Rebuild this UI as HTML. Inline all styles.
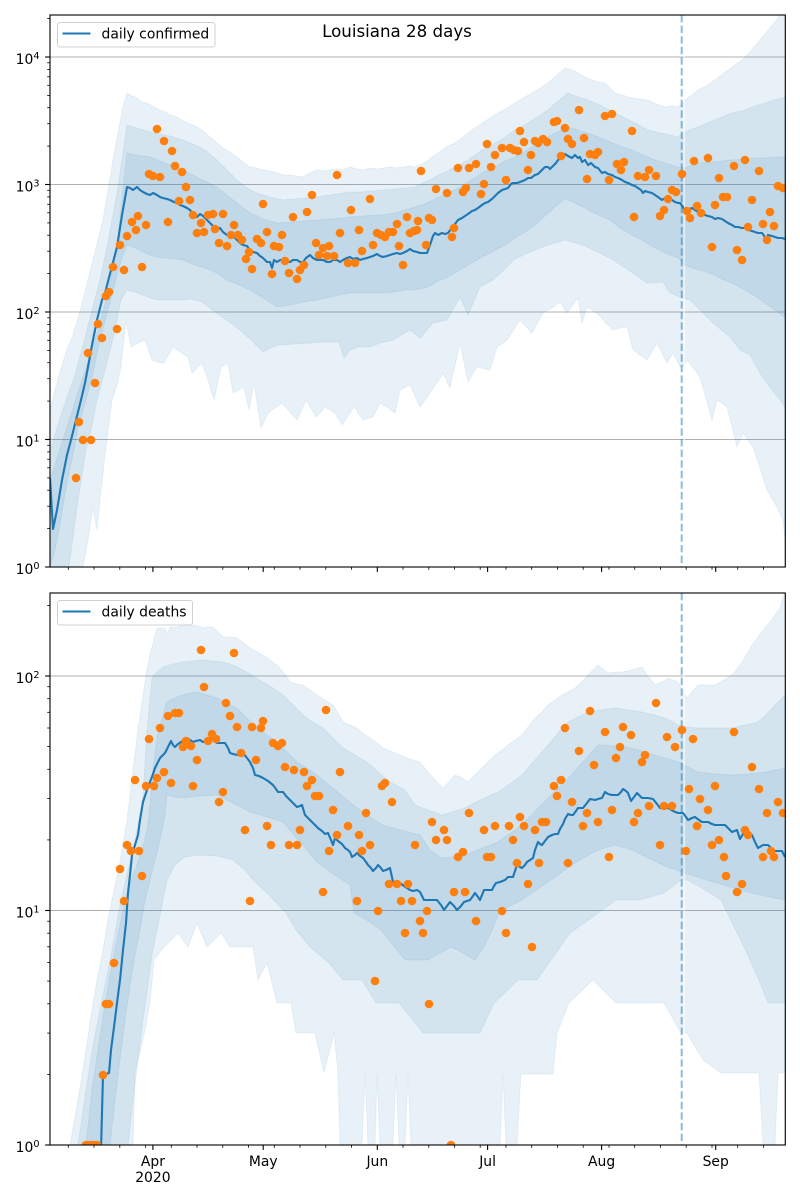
<!DOCTYPE html>
<html><head><meta charset="utf-8"><style>
html,body{margin:0;padding:0;background:#fff;}
svg{display:block;font-family:"DejaVu Sans","Liberation Sans",sans-serif;}
</style></head><body>
<svg width="800" height="1200" viewBox="0 0 800 1200" xmlns="http://www.w3.org/2000/svg">
<defs>
<clipPath id="ct"><rect x="50" y="15" width="735.3" height="552"/></clipPath>
<clipPath id="cb"><rect x="50" y="593" width="735.3" height="552"/></clipPath>
</defs>
<rect width="800" height="1200" fill="#fff"/>

<!-- ============ TOP PANEL ============ -->
<g stroke="#b0b0b0" stroke-width="1.1">
<line x1="50" y1="57" x2="785.3" y2="57"/>
<line x1="50" y1="184.5" x2="785.3" y2="184.5"/>
<line x1="50" y1="312" x2="785.3" y2="312"/>
<line x1="50" y1="439.5" x2="785.3" y2="439.5"/>
</g>
<g clip-path="url(#ct)" fill="#1f77b4" fill-opacity="0.1" fill-rule="evenodd" stroke="#1f77b4" stroke-opacity="0.08" stroke-width="1">
<path d="M50,410 55,390 60,372 66,352 73,335 78,318 83,300 88,280 93,260 98,240 103,220 108,190 113,160 118,133 123,107 127,93 132,96 137,98 142,102 147,103 152,106 156,108 160,110 165,112 170,115 177,117 183,121 190,124 197,127 203,131 210,137 217,143 223,148 230,152 237,157 243,162 250,167 257,168 263,170 270,171 277,173 283,175 290,175 297,176 303,177 310,173 317,170 323,171 330,170 337,169 343,170 350,167 357,169 363,170 370,168 377,169 383,168 390,167 397,168 403,167 410,166 415,167 420,165 428,160 435,155 442,150 448,146 455,143 462,138 468,133 475,128 482,123 490,118 498,113 507,108 515,103 523,98 532,93 540,88 548,83 556,76 565,68 572,70 578,73 585,77 592,80 598,82 605,83 610,88 615,93 622,95 632,98 640,99 648,100 656,104 665,107 672,106 678,107 682,104 685,100 692,95 698,90 706,86 715,80 724,73 732,67 742,60 750,52 760,40 770,28 778,18 785,8 785,620 50,620 Z
M50,567 83,567 88,540 93,507 97,530 100,500 105,455 112,400 117,385 121,367 126,320 131,347 138,343 145,340 152,360 158,362 164,363 173,347 180,352 188,357 192,373 202,363 208,380 214,400 221,367 228,363 233,393 239,390 244,387 249,410 254,383 261,428 268,413 275,408 282,403 290,412 297,420 306,400 316,417 325,407 335,413 342,425 354,407 363,420 373,417 380,403 388,408 395,413 400,390 410,385 420,407 430,393 437,383 443,373 450,388 460,343 468,382 477,367 490,370 497,347 507,340 520,320 532,333 543,313 552,308 560,302 567,313 578,298 582,323 587,307 597,313 605,322 613,330 620,328 627,327 633,350 640,355 647,360 657,343 667,363 673,353 680,367 683,367 687,360 700,377 706,398 712,420 717,400 727,407 737,447 743,433 753,447 760,468 767,490 777,507 783,520 785,540 785,620 50,620 Z"/>
<path d="M50,450 58,425 66,400 75,375 83,345 92,310 100,280 107,247 112,220 117,193 122,160 127,125 133,127 140,129 150,132 160,134 170,136 183,140 195,145 205,150 217,160 227,170 237,180 247,188 257,193 270,197 283,200 295,199 307,198 317,197 330,195 343,193 350,192 360,192 370,191 383,190 395,189 405,188 415,187 425,182 435,177 445,172 455,167 468,160 482,150 495,143 507,136 515,130 525,125 537,117 548,110 558,101 568,93 578,97 588,100 600,105 615,113 625,118 635,123 648,130 660,133 670,135 678,137 685,132 692,129 698,127 710,122 722,117 732,113 745,110 755,106 765,103 775,100 785,97 785,620 50,620 Z
M50,567 69,567 74,530 78,500 82,475 86,450 92,425 97,400 105,370 112,343 117,320 121,300 127,290 135,292 145,296 157,300 170,300 183,300 192,299 202,302 210,308 216,313 228,321 240,330 252,341 263,352 270,348 278,345 295,344 311,343 325,342 339,342 344,358 350,350 358,347 370,347 380,343 393,340 410,330 420,338 433,323 447,320 460,297 468,315 480,287 493,280 507,267 513,260 530,252 545,246 565,240 580,244 598,252 613,260 633,273 647,283 663,282 670,293 680,297 690,300 703,313 713,323 730,337 740,350 750,355 760,373 770,387 780,400 785,407 785,620 50,620 Z"/>
<path d="M50,480 58,455 66,430 74,405 82,380 90,355 98,330 106,300 113,267 118,235 122,200 127,153 135,155 143,156 150,157 160,161 170,165 183,170 195,176 205,181 217,187 227,195 237,203 250,213 263,219 277,223 290,222 303,221 317,220 330,219 343,218 350,217 363,216 375,215 383,215 395,213 405,210 415,207 425,204 435,199 448,193 460,187 470,181 482,173 495,167 505,161 515,157 527,150 538,143 548,137 558,132 568,127 578,130 588,133 598,137 610,142 620,146 632,150 645,156 655,160 665,163 678,167 685,168 692,165 698,163 710,162 722,161 732,160 745,159 755,158 765,158 775,157 785,157 785,620 50,620 Z
M50,567 55,550 59,530 64,500 69,473 74,450 78,427 83,410 88,393 93,373 97,353 102,333 107,313 112,295 117,275 122,258 127,245 135,248 143,252 150,255 157,257 165,258 175,259 183,260 195,265 205,268 217,273 227,280 237,284 250,290 263,298 277,307 290,305 303,302 317,300 330,297 343,294 350,293 365,293 383,293 395,292 405,290 415,290 428,287 440,280 448,277 460,270 470,264 482,257 492,252 505,245 515,238 525,232 535,225 545,216 555,207 565,199 575,203 585,208 598,215 610,220 620,228 632,235 645,242 655,248 665,253 678,258 685,265 692,268 700,270 712,274 722,279 732,283 745,290 755,296 765,303 775,310 785,318 785,620 50,620 Z"/>
</g>
<line x1="684.2" y1="15" x2="684.2" y2="567" stroke="#fff" stroke-width="1.2" stroke-opacity="0.8"/>
<g clip-path="url(#ct)">
<polyline fill="none" stroke="#1f77b4" stroke-width="2.1" stroke-linejoin="round" points="50,478 53,529 57,510 62,480 67,455 71,440 76,420 81,400 85,383 88,367 92,345 97,320 102,300 105,293 111,270 117,247 122,215 127,187 130,188 133,190 137,187 140,190 143,192 147,194 150,195 153,193 157,195 160,197 163,198 167,199 170,200 174,202 177,203 180,205 183,206 187,208 190,210 193,214 197,217 200,214 203,216 207,220 210,223 213,226 217,230 220,228 223,232 227,235 230,237 233,236 237,240 240,243 243,245 247,246 250,250 253,252 257,253 260,256 263,258 267,262 270,262 272,268 274,260 277,262 280,260 283,260 287,262 290,262 293,260 297,260 300,262 303,262 306,258 310,255 313,258 317,260 320,260 323,260 327,262 330,262 333,260 337,260 340,262 343,260 347,258 350,257 353,259 357,258 360,260 363,259 367,258 370,257 373,256 377,254 380,256 383,257 387,256 390,255 393,254 397,253 400,254 403,253 407,251 410,249 413,251 417,252 420,253 424,253 427,253 430,245 433,236 435,233 438,235 442,233 445,234 448,233 451,229 455,224 458,220 462,218 465,216 468,214 472,211 475,210 478,208 482,205 485,203 488,202 492,199 495,196 498,193 502,190 505,189 508,188 511,184 513,183 517,183 520,182 525,180 528,178 531,178 535,175 538,174 542,170 545,167 548,167 550,169 553,166 556,163 558,160 562,157 565,154 568,156 572,158 575,155 578,158 580,157 582,162 585,160 588,165 591,163 595,167 598,168 602,173 605,172 608,174 612,175 615,177 618,178 622,180 625,182 628,183 632,185 635,186 638,188 641,190 643,193 645,191 648,192 652,193 655,195 658,197 662,200 665,198 668,198 672,200 675,202 678,203 680,203 683,207 685,212 688,210 692,208 695,210 698,212 702,213 705,215 708,216 712,217 715,219 718,218 722,219 725,221 728,223 732,225 735,227 738,227 742,228 745,228 748,230 752,231 755,232 758,233 762,233 765,237 767,240 768,235 772,236 775,237 778,238 782,238 785,239"/>
<line x1="681.7" y1="15" x2="681.7" y2="567" stroke="#1f77b4" stroke-opacity="0.5" stroke-width="2" stroke-dasharray="7.4 3.2"/>
<g fill="#ff7f0e">
<circle cx="76" cy="478" r="4.3"/><circle cx="79" cy="422" r="4.3"/><circle cx="83" cy="440" r="4.3"/><circle cx="88" cy="353" r="4.3"/><circle cx="91" cy="440" r="4.3"/><circle cx="95" cy="383" r="4.3"/><circle cx="98" cy="324" r="4.3"/><circle cx="102" cy="338" r="4.3"/><circle cx="106" cy="296" r="4.3"/><circle cx="109" cy="292" r="4.3"/><circle cx="113" cy="267" r="4.3"/><circle cx="117" cy="329" r="4.3"/><circle cx="120" cy="245" r="4.3"/><circle cx="124" cy="270" r="4.3"/><circle cx="127" cy="236" r="4.3"/><circle cx="132" cy="222" r="4.3"/><circle cx="136" cy="230" r="4.3"/><circle cx="138" cy="216" r="4.3"/><circle cx="142" cy="267" r="4.3"/><circle cx="146" cy="225" r="4.3"/><circle cx="149" cy="174" r="4.3"/><circle cx="153" cy="176" r="4.3"/><circle cx="157" cy="129" r="4.3"/><circle cx="160" cy="177" r="4.3"/><circle cx="164" cy="141" r="4.3"/><circle cx="168" cy="222" r="4.3"/><circle cx="172" cy="151" r="4.3"/><circle cx="175" cy="166" r="4.3"/><circle cx="179" cy="201" r="4.3"/><circle cx="182" cy="172" r="4.3"/><circle cx="186" cy="187" r="4.3"/><circle cx="190" cy="200" r="4.3"/><circle cx="193" cy="215" r="4.3"/><circle cx="197" cy="233" r="4.3"/><circle cx="201" cy="223" r="4.3"/><circle cx="204" cy="232" r="4.3"/><circle cx="208" cy="215" r="4.3"/><circle cx="213" cy="214" r="4.3"/><circle cx="215" cy="229" r="4.3"/><circle cx="219" cy="243" r="4.3"/><circle cx="223" cy="214" r="4.3"/><circle cx="227" cy="246" r="4.3"/><circle cx="231" cy="235" r="4.3"/><circle cx="234" cy="225" r="4.3"/><circle cx="238" cy="235" r="4.3"/><circle cx="242" cy="240" r="4.3"/><circle cx="246" cy="259" r="4.3"/><circle cx="249" cy="252" r="4.3"/><circle cx="252" cy="269" r="4.3"/><circle cx="257" cy="239" r="4.3"/><circle cx="261" cy="243" r="4.3"/><circle cx="263" cy="204" r="4.3"/><circle cx="267" cy="232" r="4.3"/><circle cx="272" cy="274" r="4.3"/><circle cx="274" cy="246" r="4.3"/><circle cx="279" cy="247" r="4.3"/><circle cx="282" cy="235" r="4.3"/><circle cx="285" cy="261" r="4.3"/><circle cx="289" cy="273" r="4.3"/><circle cx="293" cy="217" r="4.3"/><circle cx="297" cy="279" r="4.3"/><circle cx="300" cy="270" r="4.3"/><circle cx="304" cy="265" r="4.3"/><circle cx="307" cy="212" r="4.3"/><circle cx="312" cy="195" r="4.3"/><circle cx="316" cy="243" r="4.3"/><circle cx="319" cy="255" r="4.3"/><circle cx="323" cy="248" r="4.3"/><circle cx="327" cy="256" r="4.3"/><circle cx="329" cy="246" r="4.3"/><circle cx="334" cy="256" r="4.3"/><circle cx="337" cy="175" r="4.3"/><circle cx="340" cy="233" r="4.3"/><circle cx="348" cy="263" r="4.3"/><circle cx="351" cy="210" r="4.3"/><circle cx="355" cy="263" r="4.3"/><circle cx="359" cy="230" r="4.3"/><circle cx="362" cy="251" r="4.3"/><circle cx="370" cy="199" r="4.3"/><circle cx="373" cy="245" r="4.3"/><circle cx="377" cy="233" r="4.3"/><circle cx="381" cy="235" r="4.3"/><circle cx="385" cy="237" r="4.3"/><circle cx="389" cy="232" r="4.3"/><circle cx="393" cy="232" r="4.3"/><circle cx="397" cy="224" r="4.3"/><circle cx="399" cy="246" r="4.3"/><circle cx="403" cy="265" r="4.3"/><circle cx="407" cy="217" r="4.3"/><circle cx="410" cy="233" r="4.3"/><circle cx="414" cy="231" r="4.3"/><circle cx="418" cy="221" r="4.3"/><circle cx="421" cy="171" r="4.3"/><circle cx="417" cy="230" r="4.3"/><circle cx="426" cy="245" r="4.3"/><circle cx="429" cy="218" r="4.3"/><circle cx="432" cy="220" r="4.3"/><circle cx="436" cy="189" r="4.3"/><circle cx="447" cy="193" r="4.3"/><circle cx="452" cy="237" r="4.3"/><circle cx="454" cy="228" r="4.3"/><circle cx="458" cy="168" r="4.3"/><circle cx="463" cy="192" r="4.3"/><circle cx="466" cy="188" r="4.3"/><circle cx="469" cy="168" r="4.3"/><circle cx="476" cy="164" r="4.3"/><circle cx="481" cy="194" r="4.3"/><circle cx="484" cy="184" r="4.3"/><circle cx="487" cy="144" r="4.3"/><circle cx="491" cy="167" r="4.3"/><circle cx="495" cy="155" r="4.3"/><circle cx="502" cy="148" r="4.3"/><circle cx="506" cy="180" r="4.3"/><circle cx="510" cy="148" r="4.3"/><circle cx="514" cy="150" r="4.3"/><circle cx="518" cy="151" r="4.3"/><circle cx="520" cy="131" r="4.3"/><circle cx="524" cy="142" r="4.3"/><circle cx="528" cy="170" r="4.3"/><circle cx="531" cy="155" r="4.3"/><circle cx="535" cy="141" r="4.3"/><circle cx="538" cy="143" r="4.3"/><circle cx="543" cy="139" r="4.3"/><circle cx="547" cy="142" r="4.3"/><circle cx="554" cy="122" r="4.3"/><circle cx="557" cy="121" r="4.3"/><circle cx="561" cy="156" r="4.3"/><circle cx="565" cy="128" r="4.3"/><circle cx="568" cy="139" r="4.3"/><circle cx="572" cy="144" r="4.3"/><circle cx="579" cy="110" r="4.3"/><circle cx="584" cy="138" r="4.3"/><circle cx="587" cy="179" r="4.3"/><circle cx="590" cy="154" r="4.3"/><circle cx="595" cy="155" r="4.3"/><circle cx="598" cy="152" r="4.3"/><circle cx="605" cy="116" r="4.3"/><circle cx="612" cy="114" r="4.3"/><circle cx="609" cy="180" r="4.3"/><circle cx="617" cy="164" r="4.3"/><circle cx="621" cy="170" r="4.3"/><circle cx="624" cy="162" r="4.3"/><circle cx="632" cy="131" r="4.3"/><circle cx="634" cy="217" r="4.3"/><circle cx="638" cy="176" r="4.3"/><circle cx="645" cy="177" r="4.3"/><circle cx="649" cy="170" r="4.3"/><circle cx="656" cy="176" r="4.3"/><circle cx="660" cy="216" r="4.3"/><circle cx="664" cy="210" r="4.3"/><circle cx="668" cy="199" r="4.3"/><circle cx="672" cy="190" r="4.3"/><circle cx="676" cy="192" r="4.3"/><circle cx="682" cy="174" r="4.3"/><circle cx="687" cy="211" r="4.3"/><circle cx="690" cy="218" r="4.3"/><circle cx="694" cy="161" r="4.3"/><circle cx="697" cy="206" r="4.3"/><circle cx="701" cy="213" r="4.3"/><circle cx="708" cy="158" r="4.3"/><circle cx="712" cy="247" r="4.3"/><circle cx="715" cy="205" r="4.3"/><circle cx="719" cy="178" r="4.3"/><circle cx="723" cy="197" r="4.3"/><circle cx="727" cy="197" r="4.3"/><circle cx="734" cy="166" r="4.3"/><circle cx="737" cy="250" r="4.3"/><circle cx="742" cy="260" r="4.3"/><circle cx="745" cy="160" r="4.3"/><circle cx="748" cy="227" r="4.3"/><circle cx="752" cy="200" r="4.3"/><circle cx="759" cy="171" r="4.3"/><circle cx="763" cy="224" r="4.3"/><circle cx="767" cy="240" r="4.3"/><circle cx="770" cy="212" r="4.3"/><circle cx="774" cy="226" r="4.3"/><circle cx="778" cy="186" r="4.3"/><circle cx="783" cy="188" r="4.3"/>
</g>
</g>
<!-- top axes frame -->
<rect x="50" y="15" width="735.3" height="552" fill="none" stroke="#000" stroke-width="1.1"/>
<!-- top y ticks -->
<g stroke="#000" stroke-width="1.1">
<line x1="45.1" y1="57" x2="50" y2="57"/><line x1="45.1" y1="184.5" x2="50" y2="184.5"/><line x1="45.1" y1="312" x2="50" y2="312"/><line x1="45.1" y1="439.5" x2="50" y2="439.5"/><line x1="45.1" y1="567" x2="50" y2="567"/>
</g>
<g stroke="#000" stroke-width="0.8">
<line x1="47.2" y1="528.6" x2="50" y2="528.6"/><line x1="47.2" y1="506.2" x2="50" y2="506.2"/><line x1="47.2" y1="490.2" x2="50" y2="490.2"/><line x1="47.2" y1="477.9" x2="50" y2="477.9"/><line x1="47.2" y1="467.8" x2="50" y2="467.8"/><line x1="47.2" y1="459.3" x2="50" y2="459.3"/><line x1="47.2" y1="451.9" x2="50" y2="451.9"/><line x1="47.2" y1="445.3" x2="50" y2="445.3"/>
<line x1="47.2" y1="401.1" x2="50" y2="401.1"/><line x1="47.2" y1="378.7" x2="50" y2="378.7"/><line x1="47.2" y1="362.7" x2="50" y2="362.7"/><line x1="47.2" y1="350.4" x2="50" y2="350.4"/><line x1="47.2" y1="340.3" x2="50" y2="340.3"/><line x1="47.2" y1="331.8" x2="50" y2="331.8"/><line x1="47.2" y1="324.4" x2="50" y2="324.4"/><line x1="47.2" y1="317.8" x2="50" y2="317.8"/>
<line x1="47.2" y1="273.6" x2="50" y2="273.6"/><line x1="47.2" y1="251.2" x2="50" y2="251.2"/><line x1="47.2" y1="235.2" x2="50" y2="235.2"/><line x1="47.2" y1="222.9" x2="50" y2="222.9"/><line x1="47.2" y1="212.8" x2="50" y2="212.8"/><line x1="47.2" y1="204.3" x2="50" y2="204.3"/><line x1="47.2" y1="196.9" x2="50" y2="196.9"/><line x1="47.2" y1="190.3" x2="50" y2="190.3"/>
<line x1="47.2" y1="146.1" x2="50" y2="146.1"/><line x1="47.2" y1="123.7" x2="50" y2="123.7"/><line x1="47.2" y1="107.7" x2="50" y2="107.7"/><line x1="47.2" y1="95.4" x2="50" y2="95.4"/><line x1="47.2" y1="85.3" x2="50" y2="85.3"/><line x1="47.2" y1="76.8" x2="50" y2="76.8"/><line x1="47.2" y1="69.4" x2="50" y2="69.4"/><line x1="47.2" y1="62.8" x2="50" y2="62.8"/>
<line x1="47.2" y1="18.6" x2="50" y2="18.6"/>
</g>
<g font-size="13.9" fill="#000" text-anchor="end">
<text x="39.5" y="64">10<tspan font-size="9.7" dy="-4.8">4</tspan></text>
<text x="39.5" y="191.5">10<tspan font-size="9.7" dy="-4.8">3</tspan></text>
<text x="39.5" y="319">10<tspan font-size="9.7" dy="-4.8">2</tspan></text>
<text x="39.5" y="446.5">10<tspan font-size="9.7" dy="-4.8">1</tspan></text>
<text x="39.5" y="574">10<tspan font-size="9.7" dy="-4.8">0</tspan></text>
</g>
<!-- top x ticks -->
<g stroke="#000" stroke-width="1.1">
<line x1="152.9" y1="567" x2="152.9" y2="571.9"/><line x1="263.2" y1="567" x2="263.2" y2="571.9"/><line x1="377.3" y1="567" x2="377.3" y2="571.9"/><line x1="487.6" y1="567" x2="487.6" y2="571.9"/><line x1="601.6" y1="567" x2="601.6" y2="571.9"/><line x1="715.7" y1="567" x2="715.7" y2="571.9"/>
</g>
<g stroke="#000" stroke-width="0.8">
<line x1="68.3" y1="567" x2="68.3" y2="569.8"/><line x1="94" y1="567" x2="94" y2="569.8"/><line x1="119.8" y1="567" x2="119.8" y2="569.8"/><line x1="145.5" y1="567" x2="145.5" y2="569.8"/><line x1="171.3" y1="567" x2="171.3" y2="569.8"/><line x1="197" y1="567" x2="197" y2="569.8"/><line x1="222.8" y1="567" x2="222.8" y2="569.8"/><line x1="248.5" y1="567" x2="248.5" y2="569.8"/><line x1="274.3" y1="567" x2="274.3" y2="569.8"/><line x1="300" y1="567" x2="300" y2="569.8"/><line x1="325.8" y1="567" x2="325.8" y2="569.8"/><line x1="351.5" y1="567" x2="351.5" y2="569.8"/><line x1="403" y1="567" x2="403" y2="569.8"/><line x1="428.8" y1="567" x2="428.8" y2="569.8"/><line x1="454.5" y1="567" x2="454.5" y2="569.8"/><line x1="480.2" y1="567" x2="480.2" y2="569.8"/><line x1="506" y1="567" x2="506" y2="569.8"/><line x1="531.7" y1="567" x2="531.7" y2="569.8"/><line x1="557.5" y1="567" x2="557.5" y2="569.8"/><line x1="583.2" y1="567" x2="583.2" y2="569.8"/><line x1="609" y1="567" x2="609" y2="569.8"/><line x1="634.7" y1="567" x2="634.7" y2="569.8"/><line x1="660.5" y1="567" x2="660.5" y2="569.8"/><line x1="686.2" y1="567" x2="686.2" y2="569.8"/><line x1="712" y1="567" x2="712" y2="569.8"/><line x1="737.7" y1="567" x2="737.7" y2="569.8"/><line x1="763.4" y1="567" x2="763.4" y2="569.8"/>
</g>
<!-- top legend -->
<rect x="57.5" y="22.5" width="157.5" height="24.5" rx="2.5" fill="#fff" fill-opacity="0.8" stroke="#d0d0d0" stroke-width="1"/>
<line x1="62.5" y1="33.5" x2="90.5" y2="33.5" stroke="#1f77b4" stroke-width="2.1"/>
<text x="101.5" y="38.5" font-size="13.9" fill="#000">daily confirmed</text>
<text x="397" y="37" font-size="16.67" fill="#000" text-anchor="middle">Louisiana 28 days</text>

<!-- ============ BOTTOM PANEL ============ -->
<g stroke="#b0b0b0" stroke-width="1.1">
<line x1="50" y1="676" x2="785.3" y2="676"/>
<line x1="50" y1="910.5" x2="785.3" y2="910.5"/>
</g>
<g clip-path="url(#cb)" fill="#1f77b4" fill-opacity="0.1" fill-rule="evenodd" stroke="#1f77b4" stroke-opacity="0.08" stroke-width="1">
<path d="M50,1145 70,1145 78,1100 86,1050 92,1010 97,980 103,950 108,920 113,895 120,862 127,820 133,770 138,730 143,695 147,670 150,655 154,640 157,628 162,628 165,628 167,635 170,627 177,627 183,625 188,625 193,625 198,626 203,628 208,627 213,627 218,632 223,637 230,637 237,638 244,643 250,648 257,652 263,655 270,660 277,665 280,668 283,672 287,677 290,682 297,684 303,685 310,690 317,695 325,700 333,705 338,713 343,722 350,725 357,728 363,733 370,738 377,743 383,748 390,751 400,755 410,759 420,762 428,772 435,780 443,788 449,782 455,775 462,778 468,782 475,775 482,768 488,762 495,755 502,750 508,745 515,740 522,735 528,727 535,718 542,712 548,705 555,700 562,695 568,692 575,688 582,682 588,675 593,670 598,665 603,669 608,673 615,672 622,672 632,670 642,667 648,676 655,685 662,682 668,678 673,680 678,682 682,690 687,698 692,692 698,685 706,685 715,685 722,681 732,675 737,669 742,662 747,654 752,645 758,637 765,628 770,622 775,615 780,608 785,590 785,1200 50,1200 Z
M50,1145 133,1145 135,1073 145,1030 150,1003 154,960 164,947 178,933 188,947 197,923 207,947 221,933 230,947 253,947 258,980 267,963 277,1003 291,1003 296,1033 315,1033 324,1073 334,1033 338,1073 340,1145 362,1145 365,1074 368,1145 375,1145 377,1074 380,1145 393,1145 396,1074 399,1145 405,1145 408,1074 411,1145 500,1145 503,1074 506,1145 517,1145 521,1074 553,1074 557,1033 569,1003 593,980 616,1003 664,1003 681,1033 687,1033 703,1060 721,1073 759,1073 763,1145 775,1145 778,1073 785,1073 785,1200 50,1200 Z"/>
<path d="M50,1145 78,1145 86,1090 93,1045 100,1010 106,980 112,950 120,905 128,870 135,840 138,825 143,795 147,730 152,678 157,672 163,667 173,664 183,662 193,661 203,660 213,661 223,662 230,664 237,667 250,674 263,682 273,688 283,695 293,705 303,715 313,722 323,728 333,738 343,748 355,755 367,762 378,772 390,782 405,790 415,805 428,810 442,815 452,812 465,808 480,800 498,792 510,784 522,775 535,760 548,745 558,733 568,722 578,717 588,712 600,710 615,708 628,710 642,712 655,715 665,718 678,725 688,727 698,728 715,728 732,728 745,725 758,722 767,714 775,705 785,695 785,1200 50,1200 Z
M50,1145 128,1145 133,1100 138,1060 143,1020 148,985 152,955 157,930 162,905 167,880 175,865 185,857 200,855 217,856 233,860 245,870 253,880 267,893 286,913 296,930 310,947 329,963 343,980 362,980 376,1003 399,1003 423,1033 480,1033 494,1003 518,980 537,980 551,960 570,933 593,917 616,900 640,900 664,893 681,880 687,880 702,888 721,900 744,947 759,980 768,1003 785,1003 785,1200 50,1200 Z"/>
<path d="M50,1145 86,1145 92,1090 98,1050 104,1010 110,975 116,945 122,915 128,890 135,870 142,850 147,830 150,805 153,770 157,738 162,718 167,702 175,698 183,695 190,693 197,692 207,695 217,698 227,703 237,708 247,718 257,728 267,735 277,742 287,752 297,762 307,768 317,775 325,782 333,788 345,798 357,808 370,817 383,825 400,830 420,835 430,850 442,858 452,857 465,855 480,849 498,842 515,830 532,815 548,798 565,782 582,763 598,745 615,746 632,748 648,753 665,758 678,762 688,767 698,772 715,774 732,775 748,774 765,772 775,770 785,768 785,1200 50,1200 Z
M50,1145 110,1145 115,1100 120,1060 125,1020 130,985 135,955 140,930 145,900 150,880 155,860 160,840 165,815 167,795 175,797 183,798 200,796 217,795 233,803 250,812 267,817 283,822 300,842 317,862 333,874 350,885 354,913 368,921 381,930 393,945 405,960 417,960 428,960 440,953 451,947 463,953 475,960 480,953 484,947 492,930 499,913 510,906 522,900 536,890 551,880 565,870 580,860 598,850 615,845 632,850 648,858 665,866 682,872 700,878 720,884 740,890 760,895 785,900 785,1200 50,1200 Z"/>
</g>
<line x1="684.2" y1="593" x2="684.2" y2="1145" stroke="#fff" stroke-width="1.2" stroke-opacity="0.8"/>
<g clip-path="url(#cb)">
<polyline fill="none" stroke="#1f77b4" stroke-width="2.1" stroke-linejoin="round" points="101,1150 103,1075 106,1074 109,1073 111,1050 114,1027 117,1003 120,980 123,950 126,923 128,893 130,875 132,855 135,845 138,835 140,820 143,802 147,790 150,782 153,774 155,768 158,762 160,758 163,755 165,753 168,747 171,741 173,745 175,747 178,744 181,742 184,740 187,738 190,740 193,742 196,741 200,740 203,742 205,742 208,741 212,738 215,741 217,743 221,743 225,743 228,748 230,753 233,754 237,755 240,754 243,753 247,758 250,762 253,768 255,775 259,776 263,778 268,781 273,785 276,789 278,792 283,792 286,796 290,800 294,804 297,807 300,806 302,805 305,815 308,818 312,822 315,825 318,828 322,831 325,834 328,833 331,840 333,845 335,838 338,841 342,844 345,848 348,850 350,852 352,857 355,855 357,853 360,856 363,858 366,862 368,865 371,868 373,871 376,868 378,865 381,868 383,871 386,870 390,868 393,882 396,882 400,883 404,886 407,888 410,890 413,891 417,890 420,892 424,900 428,900 433,900 437,900 441,905 444,910 447,906 450,902 454,906 457,910 461,906 464,902 467,901 470,900 473,896 475,893 478,897 480,900 482,895 484,890 488,890 492,890 494,886 496,883 500,882 505,880 508,877 513,877 515,871 517,865 520,867 522,868 525,865 527,862 530,860 533,858 535,850 538,842 540,844 542,845 545,841 548,837 552,835 555,834 558,834 560,829 563,824 565,819 568,814 571,815 573,815 576,811 578,808 583,808 587,803 590,799 595,800 598,799 602,798 605,792 608,794 612,795 618,795 621,792 623,789 626,791 628,793 631,801 634,797 637,793 640,796 642,798 648,798 653,799 657,804 660,808 664,808 668,808 673,811 678,813 683,813 686,817 688,820 692,818 695,817 699,820 702,822 708,822 712,824 715,825 720,825 725,825 729,829 732,832 737,830 740,839 743,834 745,830 749,833 752,835 755,842 758,848 763,845 768,845 771,848 773,851 778,851 782,851 785,857"/>
<line x1="681.7" y1="593" x2="681.7" y2="1145" stroke="#1f77b4" stroke-opacity="0.5" stroke-width="2" stroke-dasharray="7.4 3.2"/>
<g fill="#ff7f0e">
<circle cx="86" cy="1145" r="4.3"/><circle cx="90" cy="1145" r="4.3"/><circle cx="93" cy="1145" r="4.3"/><circle cx="97" cy="1145" r="4.3"/><circle cx="103" cy="1075" r="4.3"/><circle cx="106" cy="1004" r="4.3"/><circle cx="109" cy="1004" r="4.3"/><circle cx="114" cy="963" r="4.3"/><circle cx="120" cy="869" r="4.3"/><circle cx="124" cy="901" r="4.3"/><circle cx="127" cy="845" r="4.3"/><circle cx="131" cy="851" r="4.3"/><circle cx="139" cy="851" r="4.3"/><circle cx="142" cy="876" r="4.3"/><circle cx="135" cy="780" r="4.3"/><circle cx="146" cy="786" r="4.3"/><circle cx="149" cy="739" r="4.3"/><circle cx="154" cy="786" r="4.3"/><circle cx="157" cy="778" r="4.3"/><circle cx="160" cy="728" r="4.3"/><circle cx="164" cy="772" r="4.3"/><circle cx="168" cy="716" r="4.3"/><circle cx="171" cy="783" r="4.3"/><circle cx="175" cy="713" r="4.3"/><circle cx="179" cy="713" r="4.3"/><circle cx="183" cy="747" r="4.3"/><circle cx="186" cy="741" r="4.3"/><circle cx="191" cy="746" r="4.3"/><circle cx="193" cy="786" r="4.3"/><circle cx="197" cy="760" r="4.3"/><circle cx="201" cy="650" r="4.3"/><circle cx="204" cy="687" r="4.3"/><circle cx="208" cy="741" r="4.3"/><circle cx="212" cy="734" r="4.3"/><circle cx="216" cy="739" r="4.3"/><circle cx="219" cy="802" r="4.3"/><circle cx="223" cy="792" r="4.3"/><circle cx="226" cy="703" r="4.3"/><circle cx="230" cy="716" r="4.3"/><circle cx="234" cy="653" r="4.3"/><circle cx="237" cy="727" r="4.3"/><circle cx="241" cy="753" r="4.3"/><circle cx="245" cy="830" r="4.3"/><circle cx="250" cy="901" r="4.3"/><circle cx="252" cy="727" r="4.3"/><circle cx="256" cy="760" r="4.3"/><circle cx="261" cy="728" r="4.3"/><circle cx="263" cy="721" r="4.3"/><circle cx="267" cy="826" r="4.3"/><circle cx="271" cy="845" r="4.3"/><circle cx="273" cy="743" r="4.3"/><circle cx="278" cy="746" r="4.3"/><circle cx="282" cy="743" r="4.3"/><circle cx="285" cy="767" r="4.3"/><circle cx="289" cy="845" r="4.3"/><circle cx="294" cy="770" r="4.3"/><circle cx="297" cy="845" r="4.3"/><circle cx="300" cy="830" r="4.3"/><circle cx="304" cy="772" r="4.3"/><circle cx="307" cy="786" r="4.3"/><circle cx="312" cy="780" r="4.3"/><circle cx="315" cy="796" r="4.3"/><circle cx="319" cy="796" r="4.3"/><circle cx="323" cy="892" r="4.3"/><circle cx="326" cy="710" r="4.3"/><circle cx="329" cy="851" r="4.3"/><circle cx="333" cy="810" r="4.3"/><circle cx="337" cy="835" r="4.3"/><circle cx="340" cy="772" r="4.3"/><circle cx="348" cy="826" r="4.3"/><circle cx="357" cy="901" r="4.3"/><circle cx="359" cy="835" r="4.3"/><circle cx="362" cy="851" r="4.3"/><circle cx="366" cy="813" r="4.3"/><circle cx="370" cy="845" r="4.3"/><circle cx="375" cy="981" r="4.3"/><circle cx="378" cy="911" r="4.3"/><circle cx="382" cy="786" r="4.3"/><circle cx="385" cy="783" r="4.3"/><circle cx="389" cy="884" r="4.3"/><circle cx="392" cy="802" r="4.3"/><circle cx="397" cy="884" r="4.3"/><circle cx="401" cy="901" r="4.3"/><circle cx="405" cy="933" r="4.3"/><circle cx="408" cy="884" r="4.3"/><circle cx="412" cy="901" r="4.3"/><circle cx="415" cy="845" r="4.3"/><circle cx="420" cy="921" r="4.3"/><circle cx="423" cy="933" r="4.3"/><circle cx="427" cy="911" r="4.3"/><circle cx="429" cy="1004" r="4.3"/><circle cx="432" cy="822" r="4.3"/><circle cx="436" cy="840" r="4.3"/><circle cx="444" cy="830" r="4.3"/><circle cx="447" cy="840" r="4.3"/><circle cx="451" cy="1145" r="4.3"/><circle cx="454" cy="892" r="4.3"/><circle cx="458" cy="857" r="4.3"/><circle cx="463" cy="852" r="4.3"/><circle cx="465" cy="892" r="4.3"/><circle cx="469" cy="813" r="4.3"/><circle cx="476" cy="921" r="4.3"/><circle cx="484" cy="830" r="4.3"/><circle cx="487" cy="857" r="4.3"/><circle cx="491" cy="857" r="4.3"/><circle cx="495" cy="826" r="4.3"/><circle cx="502" cy="911" r="4.3"/><circle cx="506" cy="933" r="4.3"/><circle cx="509" cy="826" r="4.3"/><circle cx="513" cy="840" r="4.3"/><circle cx="517" cy="863" r="4.3"/><circle cx="520" cy="817" r="4.3"/><circle cx="524" cy="826" r="4.3"/><circle cx="528" cy="884" r="4.3"/><circle cx="532" cy="947" r="4.3"/><circle cx="535" cy="830" r="4.3"/><circle cx="539" cy="863" r="4.3"/><circle cx="542" cy="822" r="4.3"/><circle cx="546" cy="822" r="4.3"/><circle cx="554" cy="786" r="4.3"/><circle cx="557" cy="796" r="4.3"/><circle cx="561" cy="780" r="4.3"/><circle cx="565" cy="728" r="4.3"/><circle cx="568" cy="863" r="4.3"/><circle cx="572" cy="802" r="4.3"/><circle cx="579" cy="751" r="4.3"/><circle cx="583" cy="826" r="4.3"/><circle cx="587" cy="813" r="4.3"/><circle cx="590" cy="711" r="4.3"/><circle cx="594" cy="765" r="4.3"/><circle cx="598" cy="822" r="4.3"/><circle cx="605" cy="732" r="4.3"/><circle cx="609" cy="857" r="4.3"/><circle cx="612" cy="810" r="4.3"/><circle cx="616" cy="758" r="4.3"/><circle cx="620" cy="747" r="4.3"/><circle cx="623" cy="727" r="4.3"/><circle cx="631" cy="735" r="4.3"/><circle cx="634" cy="822" r="4.3"/><circle cx="638" cy="813" r="4.3"/><circle cx="642" cy="762" r="4.3"/><circle cx="645" cy="755" r="4.3"/><circle cx="649" cy="806" r="4.3"/><circle cx="656" cy="703" r="4.3"/><circle cx="660" cy="845" r="4.3"/><circle cx="664" cy="806" r="4.3"/><circle cx="667" cy="737" r="4.3"/><circle cx="672" cy="806" r="4.3"/><circle cx="675" cy="747" r="4.3"/><circle cx="682" cy="730" r="4.3"/><circle cx="686" cy="851" r="4.3"/><circle cx="689" cy="789" r="4.3"/><circle cx="693" cy="739" r="4.3"/><circle cx="697" cy="826" r="4.3"/><circle cx="700" cy="799" r="4.3"/><circle cx="708" cy="810" r="4.3"/><circle cx="712" cy="845" r="4.3"/><circle cx="715" cy="786" r="4.3"/><circle cx="719" cy="840" r="4.3"/><circle cx="724" cy="857" r="4.3"/><circle cx="726" cy="876" r="4.3"/><circle cx="734" cy="732" r="4.3"/><circle cx="737" cy="892" r="4.3"/><circle cx="742" cy="884" r="4.3"/><circle cx="745" cy="830" r="4.3"/><circle cx="748" cy="835" r="4.3"/><circle cx="752" cy="767" r="4.3"/><circle cx="759" cy="789" r="4.3"/><circle cx="763" cy="857" r="4.3"/><circle cx="767" cy="813" r="4.3"/><circle cx="771" cy="851" r="4.3"/><circle cx="774" cy="857" r="4.3"/><circle cx="778" cy="802" r="4.3"/><circle cx="783" cy="813" r="4.3"/>
</g>
</g>
<rect x="50" y="593" width="735.3" height="552" fill="none" stroke="#000" stroke-width="1.1"/>
<!-- bottom y ticks -->
<g stroke="#000" stroke-width="1.1">
<line x1="45.1" y1="676" x2="50" y2="676"/><line x1="45.1" y1="910.5" x2="50" y2="910.5"/><line x1="45.1" y1="1145" x2="50" y2="1145"/>
</g>
<g stroke="#000" stroke-width="0.8">
<line x1="47.2" y1="1074.4" x2="50" y2="1074.4"/><line x1="47.2" y1="1033.1" x2="50" y2="1033.1"/><line x1="47.2" y1="1003.8" x2="50" y2="1003.8"/><line x1="47.2" y1="981.1" x2="50" y2="981.1"/><line x1="47.2" y1="962.5" x2="50" y2="962.5"/><line x1="47.2" y1="946.8" x2="50" y2="946.8"/><line x1="47.2" y1="933.2" x2="50" y2="933.2"/><line x1="47.2" y1="921.2" x2="50" y2="921.2"/>
<line x1="47.2" y1="839.9" x2="50" y2="839.9"/><line x1="47.2" y1="798.6" x2="50" y2="798.6"/><line x1="47.2" y1="769.3" x2="50" y2="769.3"/><line x1="47.2" y1="746.6" x2="50" y2="746.6"/><line x1="47.2" y1="728" x2="50" y2="728"/><line x1="47.2" y1="712.3" x2="50" y2="712.3"/><line x1="47.2" y1="698.7" x2="50" y2="698.7"/><line x1="47.2" y1="686.7" x2="50" y2="686.7"/>
<line x1="47.2" y1="605.4" x2="50" y2="605.4"/>
</g>
<g font-size="13.9" fill="#000" text-anchor="end">
<text x="39.5" y="683">10<tspan font-size="9.7" dy="-4.8">2</tspan></text>
<text x="39.5" y="917.5">10<tspan font-size="9.7" dy="-4.8">1</tspan></text>
<text x="39.5" y="1152">10<tspan font-size="9.7" dy="-4.8">0</tspan></text>
</g>
<!-- bottom x ticks -->
<g stroke="#000" stroke-width="1.1">
<line x1="152.9" y1="1145" x2="152.9" y2="1149.9"/><line x1="263.2" y1="1145" x2="263.2" y2="1149.9"/><line x1="377.3" y1="1145" x2="377.3" y2="1149.9"/><line x1="487.6" y1="1145" x2="487.6" y2="1149.9"/><line x1="601.6" y1="1145" x2="601.6" y2="1149.9"/><line x1="715.7" y1="1145" x2="715.7" y2="1149.9"/>
</g>
<g stroke="#000" stroke-width="0.8">
<line x1="68.3" y1="1145" x2="68.3" y2="1147.8"/><line x1="94" y1="1145" x2="94" y2="1147.8"/><line x1="119.8" y1="1145" x2="119.8" y2="1147.8"/><line x1="145.5" y1="1145" x2="145.5" y2="1147.8"/><line x1="171.3" y1="1145" x2="171.3" y2="1147.8"/><line x1="197" y1="1145" x2="197" y2="1147.8"/><line x1="222.8" y1="1145" x2="222.8" y2="1147.8"/><line x1="248.5" y1="1145" x2="248.5" y2="1147.8"/><line x1="274.3" y1="1145" x2="274.3" y2="1147.8"/><line x1="300" y1="1145" x2="300" y2="1147.8"/><line x1="325.8" y1="1145" x2="325.8" y2="1147.8"/><line x1="351.5" y1="1145" x2="351.5" y2="1147.8"/><line x1="403" y1="1145" x2="403" y2="1147.8"/><line x1="428.8" y1="1145" x2="428.8" y2="1147.8"/><line x1="454.5" y1="1145" x2="454.5" y2="1147.8"/><line x1="480.2" y1="1145" x2="480.2" y2="1147.8"/><line x1="506" y1="1145" x2="506" y2="1147.8"/><line x1="531.7" y1="1145" x2="531.7" y2="1147.8"/><line x1="557.5" y1="1145" x2="557.5" y2="1147.8"/><line x1="583.2" y1="1145" x2="583.2" y2="1147.8"/><line x1="609" y1="1145" x2="609" y2="1147.8"/><line x1="634.7" y1="1145" x2="634.7" y2="1147.8"/><line x1="660.5" y1="1145" x2="660.5" y2="1147.8"/><line x1="686.2" y1="1145" x2="686.2" y2="1147.8"/><line x1="712" y1="1145" x2="712" y2="1147.8"/><line x1="737.7" y1="1145" x2="737.7" y2="1147.8"/><line x1="763.4" y1="1145" x2="763.4" y2="1147.8"/>
</g>
<g font-size="13.9" fill="#000" text-anchor="middle">
<text x="152.9" y="1166">Apr</text>
<text x="152.9" y="1182">2020</text>
<text x="263.2" y="1166">May</text>
<text x="377.3" y="1166">Jun</text>
<text x="487.6" y="1166">Jul</text>
<text x="601.6" y="1166">Aug</text>
<text x="715.7" y="1166">Sep</text>
</g>
<!-- bottom legend -->
<rect x="57.5" y="600.5" width="135" height="24.5" rx="2.5" fill="#fff" fill-opacity="0.8" stroke="#d0d0d0" stroke-width="1"/>
<line x1="62.5" y1="611.5" x2="90.5" y2="611.5" stroke="#1f77b4" stroke-width="2.1"/>
<text x="101.5" y="616.5" font-size="13.9" fill="#000">daily deaths</text>
</svg>
</body></html>
